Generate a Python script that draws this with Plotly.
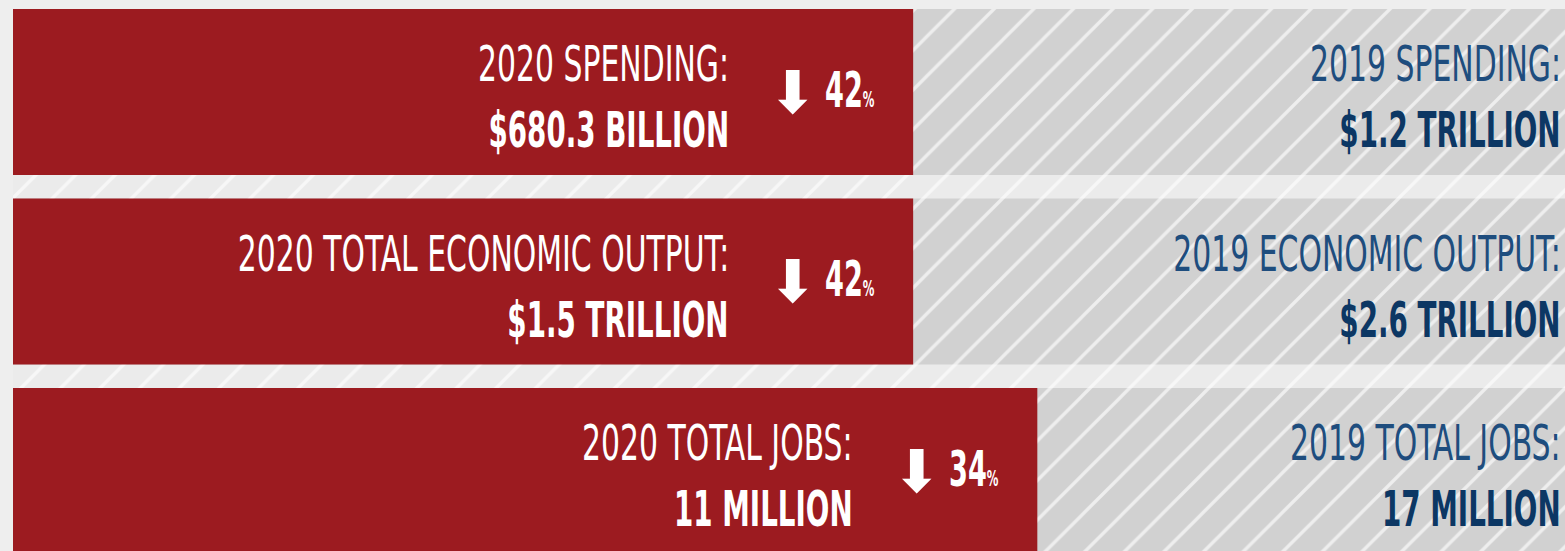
import json
import plotly.graph_objects as go

# 2020 vs 2019 travel figures
labels_2020 = ["2020 SPENDING:", "2020 TOTAL ECONOMIC OUTPUT:", "2020 TOTAL JOBS:"]
values_2020 = ["$680.3 BILLION", "$1.5 TRILLION", "11 MILLION"]
labels_2019 = ["2019 SPENDING:", "2019 ECONOMIC OUTPUT:", "2019 TOTAL JOBS:"]
values_2019 = ["$1.2 TRILLION", "$2.6 TRILLION", "17 MILLION"]
pct_drop = [42, 42, 34]

# 2019 is the 100% baseline; the 2020 bar is what remains after the drop
share_2019 = [100, 100, 100]
share_2020 = [100 - d for d in pct_drop]
rows = list(range(len(pct_drop)))
gaps = [r + 0.5 for r in rows[:-1]]

RED = "#9c1b20"
GREY = "#d1d1d1"
NAVY = "#1e4d7e"
NAVY_DARK = "#0c3764"
FONT = "Liberation Sans Narrow, DejaVu Sans Condensed, sans-serif"
BAR_W = 0.876

# horizontal squeeze for the condensed headline look: (factor, pivot side)
SQUEEZE_REG = 0.664
SQUEEZE_BOLD = 0.617

fig = go.Figure()

# faint hatching in the gutters between rows
fig.add_trace(go.Bar(
    x=[100] * len(gaps), y=gaps, orientation="h", width=0.13,
    marker=dict(color="#ebebeb", line=dict(width=0),
                pattern=dict(shape="/", bgcolor="#ebebeb", fgcolor="#f7f7f7",
                             size=28, solidity=0.12, fillmode="replace")),
    hoverinfo="skip", showlegend=False,
))

# 2019 baseline, hatched grey
fig.add_trace(go.Bar(
    x=share_2019, y=rows, orientation="h", width=BAR_W,
    marker=dict(color=GREY, line=dict(width=0),
                pattern=dict(shape="/", bgcolor=GREY, fgcolor="#eeeeee",
                             size=28, solidity=0.12, fillmode="replace")),
    hoverinfo="skip", showlegend=False,
))

# 2020 level, solid red
fig.add_trace(go.Bar(
    x=share_2020, y=rows, orientation="h", width=BAR_W,
    marker=dict(color=RED, line=dict(width=0)),
    hoverinfo="skip", showlegend=False,
))

annotations = []
squeeze = []


def add_note(squeeze_spec, **kw):
    base = dict(xref="x", yref="y", showarrow=False, yanchor="middle")
    base.update(kw)
    annotations.append(base)
    squeeze.append(squeeze_spec)


for r in rows:
    x20 = share_2020[r]
    # 2020 caption and value, right-aligned inside the red bar
    add_note([SQUEEZE_REG, "r"], x=x20, y=r, xanchor="right", xshift=-182, yshift=28,
             text=labels_2020[r], font=dict(family=FONT, size=50, color="white"))
    add_note([SQUEEZE_BOLD, "r"], x=x20, y=r, xanchor="right", xshift=-182, yshift=-38,
             text=f"<b>{values_2020[r]}</b>", font=dict(family=FONT, size=50, color="white"))
    # drop arrow and percentage
    add_note(None, x=x20, y=r, xanchor="left", xshift=-147, yshift=0,
             text="⬇", font=dict(family="DejaVu Sans", size=59, color="white"))
    add_note([SQUEEZE_BOLD, "l"], x=x20, y=r, xanchor="left", xshift=-90, yshift=2,
             text=f"<b>{pct_drop[r]}</b><span style='font-size:21px'><b>%</b></span>",
             font=dict(family=FONT, size=49, color="white"))
    # 2019 caption and value at the right end of the grey bar
    add_note([SQUEEZE_REG, "r"], x=share_2019[r], y=r, xanchor="right", xshift=-2, yshift=28,
             text=labels_2019[r], font=dict(family=FONT, size=50, color=NAVY))
    add_note([SQUEEZE_BOLD, "r"], x=share_2019[r], y=r, xanchor="right", xshift=-2, yshift=-38,
             text=f"<b>{values_2019[r]}</b>", font=dict(family=FONT, size=50, color=NAVY_DARK))

fig.update_layout(
    width=1565, height=551,
    margin=dict(l=13, r=0, t=0, b=0),
    paper_bgcolor="#eeeeee", plot_bgcolor="#eeeeee",
    barmode="overlay",
    xaxis=dict(range=[0, 100], visible=False, fixedrange=True),
    yaxis=dict(range=[2.422, -0.4855], visible=False, fixedrange=True),
    annotations=annotations,
)

# narrow the annotation text horizontally, keeping its anchored edge fixed
squeeze_js = """
var gd = document.getElementById('{plot_id}');
var spec = SPEC;
gd.querySelectorAll('g.annotation').forEach(function (g) {
  var i = +g.getAttribute('data-index');
  var s = spec[i];
  if (!s) return;
  var t = g.querySelector('text.annotation-text');
  if (!t) return;
  var bb = t.getBBox();
  var px = s[1] === 'r' ? bb.x + bb.width : bb.x;
  t.setAttribute('transform',
    'translate(' + px + ',0) scale(' + s[0] + ',1) translate(' + (-px) + ',0)');
});
""".replace("SPEC", json.dumps(squeeze))

fig.write_html("out.html", post_script=squeeze_js)
